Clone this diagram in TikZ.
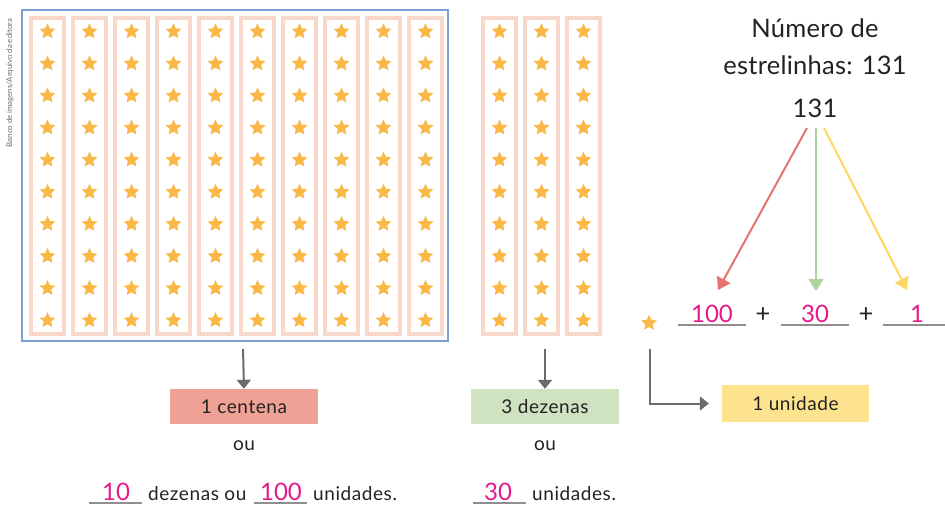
\documentclass[tikz,border=0pt]{standalone}
\usepackage{fontspec}
\setmainfont{Lato}
\newfontfamily\widefont{Lato}[LetterSpace=3]
\newfontfamily\titlefont{Lato}[LetterSpace=1]
\usetikzlibrary{shapes.geometric,arrows.meta}

\definecolor{frameblue}{HTML}{7AA1D2}
\definecolor{colpink}{HTML}{F9D8CB}
\definecolor{staror}{HTML}{F9B848}
\definecolor{inkgray}{HTML}{6B6B6B}
\definecolor{linegray}{HTML}{8E8E8E}
\definecolor{answer}{HTML}{E6198A}
\definecolor{boxred}{HTML}{F0A196}
\definecolor{boxgreen}{HTML}{CFE3C1}
\definecolor{boxyellow}{HTML}{FEE38F}
\definecolor{arrred}{HTML}{E8736C}
\definecolor{arrgreen}{HTML}{AED49E}
\definecolor{arryellow}{HTML}{FDD75F}
\definecolor{textdark}{HTML}{222222}

\tikzset{
  frame/.style={draw=frameblue, line width=2pt},
  column/.style={draw=colpink, line width=3.5pt},
  estrela/.style={star, star points=5, star point ratio=2.1, fill=staror,
    draw=none, inner sep=0pt, minimum size=16.5pt},
  downarrow/.style={draw=inkgray, line width=2pt,
    -{Triangle[length=9pt,width=14pt]}},
  colarrow/.style={line width=2pt, -{Triangle[length=12pt,width=15pt]}},
  label/.style={font=\widefont\fontsize{19}{21}\selectfont, text=textdark, anchor=base, inner sep=0pt},
  biglabel/.style={font=\titlefont\fontsize{25.5}{28}\selectfont, text=textdark, anchor=base, inner sep=0pt},
  blank/.style={text=answer, anchor=base, inner sep=0pt, font=\fontsize{24}{26}\selectfont},
  uline/.style={draw=linegray, line width=1.5pt},
  tagbox/.style={font=\widefont\fontsize{19}{21}\selectfont, text=textdark, inner sep=0pt,
    minimum height=35pt, minimum width=148pt},
}

\begin{document}
\begin{tikzpicture}[x=1pt,y=-1pt]
\useasboundingbox (0,0) rectangle (945,504);

% credit line
\node[rotate=90, font=\fontsize{7.8}{9}\selectfont, text=inkgray, inner sep=0pt]
  (credit) at (10,83) {Banco de imagens/Arquivo da editora};

% the hundred: ten columns of ten stars
\node[frame, minimum width=426pt, minimum height=331pt, inner sep=0pt]
  (centena) at (235,175.5) {};
\foreach \c in {0,...,9}{
  \draw[column] (31+42*\c,18) rectangle (64+42*\c,334);
  \foreach \r in {0,...,9}
    \node[estrela] (s-\c-\r) at (47.5+42*\c,31.5+32.1*\r) {};
}

% three tens
\foreach \c in {0,1,2}{
  \draw[column] (483+42*\c,18) rectangle (516+42*\c,334);
  \foreach \r in {0,...,9}
    \node[estrela] (t-\c-\r) at (499.5+42*\c,31.5+32.1*\r) {};
}

% labels under the hundred
\coordinate (ca) at (243,349);
\node[tagbox, fill=boxred] (bcent) at (244,406.5) {1 centena};
\draw[downarrow] (ca) -- (bcent.north);
\node[label] (ou1) at (244,450) {ou};
\node[blank] (b10) at (116,500) {10};
\draw[uline] (89,503) -- (142,503);
\node[label, anchor=base west] (dez) at (148,500) {dezenas ou};
\node[blank] (b100a) at (281,500) {100};
\draw[uline] (254,503) -- (307,503);
\node[label, anchor=base west] (uni1) at (313,500) {unidades.};

% labels under the tens
\coordinate (da) at (545,349);
\node[tagbox, fill=boxgreen] (bdez) at (545,406.5) {3 dezenas};
\draw[downarrow] (da) -- (bdez.north);
\node[label] (ou2) at (545,450) {ou};
\node[blank] (b30a) at (498,500) {30};
\draw[uline] (473,503) -- (526,503);
\node[label, anchor=base west] (uni2) at (532,500) {unidades.};

% total and decomposition
\node[biglabel] (t1) at (815,37) {Número de};
\node[biglabel] (t2) at (815,74) {estrelinhas: 131};
\node[biglabel] (n131) at (815,117) {131};

\node[blank] (b100) at (712,322) {100};
\draw[uline] (678,325) -- (746,325);
\node[biglabel] (p1) at (763,322) {+};
\node[blank] (b30) at (815,322) {30};
\draw[uline] (781,325) -- (849,325);
\node[biglabel] (p2) at (866,322) {+};
\node[blank] (b1) at (917,322) {1};
\draw[uline] (883,325) -- (945,325);

\coordinate (rs) at (807,128);
\coordinate (gs) at (816,128);
\coordinate (ys) at (824,128);
\coordinate (re) at (718,290);
\coordinate (ge) at (816,291);
\coordinate (ye) at (907,290);
\draw[colarrow, draw=arrred, fill=arrred] (rs) -- (re);
\draw[colarrow, draw=arrgreen, fill=arrgreen] (gs) -- (ge);
\draw[colarrow, draw=arryellow, fill=arryellow] (ys) -- (ye);

% one unit
\node[estrela] (unit) at (649,323) {};
\coordinate (ua) at (650,349);
\node[tagbox, fill=boxyellow, minimum width=147pt, minimum height=37pt]
  (buni) at (795.5,403.5) {1 unidade};
\draw[downarrow] (ua) |- ([xshift=-13pt]buni.west);
\end{tikzpicture}
\end{document}
